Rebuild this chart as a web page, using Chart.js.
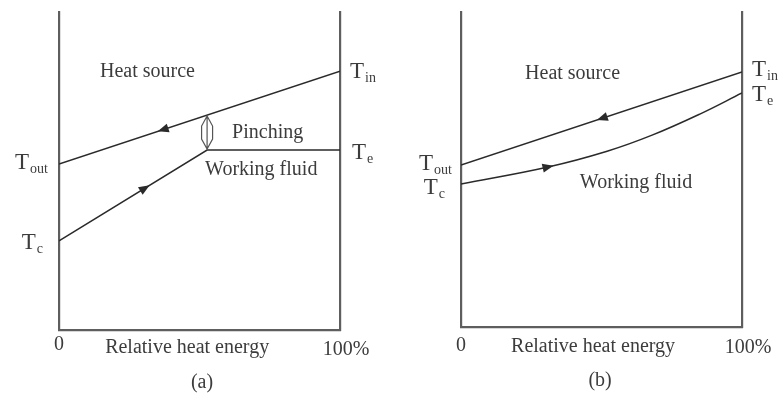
<!DOCTYPE html>
<html>
<head>
<meta charset="utf-8">
<script src="https://cdn.jsdelivr.net/npm/chart.js@4"></script>
<style>
  html, body { margin: 0; padding: 0; background: #fff; }
  #wrap { position: relative; width: 778px; height: 394px; overflow: hidden; }
  .panel { position: absolute; top: 0; width: 389px; height: 394px; }
</style>
</head>
<body>
<div id="wrap">
  <div class="panel" style="left:0"><canvas id="chartA" width="389" height="394"></canvas></div>
  <div class="panel" style="left:389px"><canvas id="chartB" width="389" height="394"></canvas></div>
</div>
<script>
// Temperature (0-100, arbitrary) against relative heat energy (%)

// (a) evaporating working fluid with a pinch point
const sourceEnergyA = [0, 100];
const sourceTempA   = [52.2, 81.4];
const fluidEnergyA  = [0, 52.7, 100];
const fluidTempA    = [28.0, 56.6, 56.6];

// (b) supercritical working fluid, no pinch
const sourceEnergyB = [0, 100];
const sourceTempB   = [51.4, 81.0];
const fluidEnergyB  = [0, 31, 52, 68, 85, 100];
const fluidTempB    = [45.4, 50.8, 55.8, 60.9, 67.6, 74.3];

// axis captions
const axisTitle   = 'Relative heat energy';
const axisTicks   = ['0', '100%'];
const panelTitles = ['(a)', '(b)'];

const AXIS = '#5e5e5e';
const INK  = '#2a2a2a';
const TEXT = '#3c3c3c';
const SERIF = '"Liberation Serif", "Times New Roman", serif';

const toPoints = (xs, ys) => xs.map((v, i) => ({ x: v, y: ys[i] }));

function tempAt(pts, e) {
  for (let i = 1; i < pts.length; i++) {
    if (e <= pts[i].x) {
      const a = pts[i - 1], b = pts[i];
      return a.y + (e - a.x) / (b.x - a.x) * (b.y - a.y);
    }
  }
  return pts[pts.length - 1].y;
}

// Draws flow arrows, the pinch marker and all labels in data space
const diagramPlugin = {
  id: 'diagram',
  afterDraw(chart, args, opts) {
    const { ctx, scales: { x, y } } = chart;
    const px = v => x.getPixelForValue(v);
    const py = v => y.getPixelForValue(v);
    const series = chart.data.datasets.map(d => d.data);

    // direction arrows on the curves
    ctx.save();
    ctx.fillStyle = INK;
    (opts.arrows || []).forEach(a => {
      const pts = series[a.series];
      const cx = px(a.at), cy = py(tempAt(pts, a.at));
      const x0 = px(a.at - 3), y0 = py(tempAt(pts, a.at - 3));
      const x1 = px(a.at + 3), y1 = py(tempAt(pts, a.at + 3));
      let ang = Math.atan2(y1 - y0, x1 - x0);
      if (a.dir < 0) ang += Math.PI;
      ctx.save();
      ctx.translate(cx, cy);
      ctx.rotate(ang);
      ctx.beginPath();
      ctx.moveTo(5.5, 0);
      ctx.lineTo(-5.5, -4.5);
      ctx.lineTo(-5.5, 4.5);
      ctx.closePath();
      ctx.fill();
      ctx.restore();
    });
    ctx.restore();

    // double-headed pinch marker
    if (opts.pinch) {
      const p = opts.pinch;
      const cx = px(p.at);
      const top = py(tempAt(series[p.upper], p.at)) + 1;
      const bot = py(tempAt(series[p.lower], p.at)) - 1;
      const h = 10, w = 5.5;
      ctx.save();
      ctx.strokeStyle = '#555';
      ctx.lineWidth = 1.2;
      ctx.beginPath();
      ctx.moveTo(cx, top);
      ctx.lineTo(cx - w, top + h);
      ctx.lineTo(cx - w, bot - h);
      ctx.lineTo(cx, bot);
      ctx.lineTo(cx + w, bot - h);
      ctx.lineTo(cx + w, top + h);
      ctx.closePath();
      ctx.moveTo(cx, top);
      ctx.lineTo(cx, bot);
      ctx.stroke();
      ctx.restore();
    }

    // text labels
    ctx.save();
    ctx.fillStyle = TEXT;
    ctx.textBaseline = 'middle';
    (opts.labels || []).forEach(l => {
      const ax = px(l.x) + (l.dx || 0);
      const ay = py(l.y) + (l.dy || 0);
      const mainFont = `${l.size || 20}px ${SERIF}`;
      const subFont = `14px ${SERIF}`;
      ctx.font = mainFont;
      const wMain = ctx.measureText(l.text).width;
      let wSub = 0;
      if (l.sub) { ctx.font = subFont; wSub = ctx.measureText(l.sub).width + 1; }
      const total = wMain + wSub;
      let left = ax;
      if (l.align === 'right') left = ax - total;
      else if (l.align === 'center') left = ax - total / 2;
      ctx.textAlign = 'left';
      ctx.font = mainFont;
      ctx.fillText(l.text, left, ay);
      if (l.sub) {
        ctx.font = subFont;
        ctx.fillText(l.sub, left + wMain + 1, ay + 6);
      }
    });
    ctx.restore();
  }
};

function hiddenScale(position, horizontal) {
  return {
    type: 'linear', position, min: 0, max: 100,
    grid: { display: false, drawTicks: false },
    ticks: { display: false },
    border: { display: true, color: AXIS, width: 2.2 },
    afterFit: s => { if (horizontal) s.height = 0; else s.width = 0; }
  };
}

function makeChart(id, cfg) {
  return new Chart(document.getElementById(id), {
    type: 'scatter',
    data: {
      datasets: [
        { data: toPoints(cfg.sourceEnergy, cfg.sourceTemp), showLine: true,
          borderColor: INK, borderWidth: 1.5, pointRadius: 0, tension: 0 },
        { data: toPoints(cfg.fluidEnergy, cfg.fluidTemp), showLine: true,
          borderColor: INK, borderWidth: 1.5, pointRadius: 0,
          tension: cfg.smooth ? 0.4 : 0 }
      ]
    },
    options: {
      responsive: false,
      animation: false,
      events: [],
      layout: { padding: cfg.padding },
      plugins: {
        legend: { display: false },
        tooltip: { enabled: false },
        diagram: cfg.decor
      },
      scales: {
        x: hiddenScale('bottom', true),
        y: hiddenScale('left', false),
        y2: hiddenScale('right', false)
      }
    },
    plugins: [diagramPlugin]
  });
}

makeChart('chartA', {
  sourceEnergy: sourceEnergyA, sourceTemp: sourceTempA,
  fluidEnergy: fluidEnergyA, fluidTemp: fluidTempA,
  smooth: false,
  padding: { left: 59, right: 49, top: 12, bottom: 64 },
  decor: {
    arrows: [
      { series: 0, at: 37, dir: -1 },
      { series: 1, at: 30.6, dir: 1 }
    ],
    pinch: { at: fluidEnergyA[1], upper: 0, lower: 1 },
    labels: [
      { text: 'Heat source', x: 14.6, y: 81.1, align: 'left' },
      { text: 'Pinching', x: 61.6, y: 61.9, align: 'left' },
      { text: 'Working fluid', x: 52, y: 50.3, align: 'left' },
      { text: 'T', sub: 'out', size: 23, x: 0, y: sourceTempA[0], dx: -11, dy: -1, align: 'right' },
      { text: 'T', sub: 'c', size: 23, x: 0, y: fluidTempA[0], dx: -16, dy: 2, align: 'right' },
      { text: 'T', sub: 'in', size: 23, x: 100, y: sourceTempA[1], dx: 10, dy: 1, align: 'left' },
      { text: 'T', sub: 'e', size: 23, x: 100, y: fluidTempA[2], dx: 12, dy: 3, align: 'left' },
      { text: axisTicks[0], x: 0, y: 0, dy: 15, align: 'center' },
      { text: axisTitle, x: 45.6, y: 0, dy: 18, align: 'center' },
      { text: axisTicks[1], x: 100, y: 0, dx: 6, dy: 20, align: 'center' },
      { text: panelTitles[0], x: 50.9, y: 0, dy: 53, align: 'center' }
    ]
  }
});

makeChart('chartB', {
  sourceEnergy: sourceEnergyB, sourceTemp: sourceTempB,
  fluidEnergy: fluidEnergyB, fluidTemp: fluidTempB,
  smooth: true,
  padding: { left: 72, right: 36, top: 12, bottom: 67 },
  decor: {
    arrows: [
      { series: 0, at: 50.2, dir: -1 },
      { series: 1, at: 31, dir: 1 }
    ],
    labels: [
      { text: 'Heat source', x: 22.8, y: 80.3, align: 'left' },
      { text: 'Working fluid', x: 42.3, y: 45.7, align: 'left' },
      { text: 'T', sub: 'out', size: 23, x: 0, y: sourceTempB[0], dx: -9, dy: -1, align: 'right' },
      { text: 'T', sub: 'c', size: 23, x: 0, y: fluidTempB[0], dx: -16, dy: 4, align: 'right' },
      { text: 'T', sub: 'in', size: 23, x: 100, y: sourceTempB[1], dx: 10, dy: -2, align: 'left' },
      { text: 'T', sub: 'e', size: 23, x: 100, y: fluidTempB[fluidTempB.length - 1], dx: 10, dy: 2, align: 'left' },
      { text: axisTicks[0], x: 0, y: 0, dy: 19, align: 'center' },
      { text: axisTitle, x: 47, y: 0, dy: 20, align: 'center' },
      { text: axisTicks[1], x: 100, y: 0, dx: 6, dy: 21, align: 'center' },
      { text: panelTitles[1], x: 49.5, y: 0, dy: 54, align: 'center' }
    ]
  }
});
</script>
</body>
</html>
